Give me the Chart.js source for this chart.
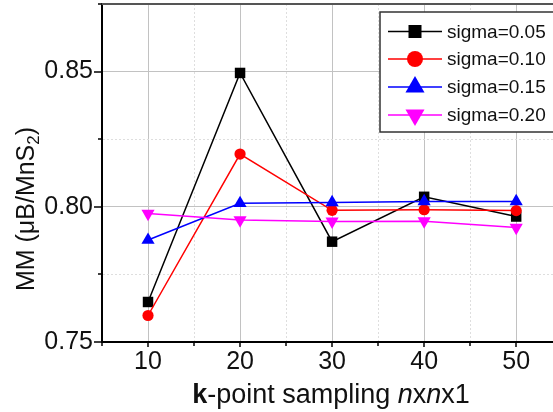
<!DOCTYPE html>
<html>
<head>
<meta charset="utf-8">
<script src="https://cdn.jsdelivr.net/npm/chart.js@4/dist/chart.umd.min.js"></script>
<style>
  html, body { margin: 0; padding: 0; background: #fff; overflow: hidden; }
  canvas { display: block; }
</style>
</head>
<body>
<canvas id="c" width="553" height="412"></canvas>
<script>
// k-point mesh sizes (n in n x n x 1)
const kPoints = [10, 20, 30, 40, 50];

// Magnetic moment per MnS2 for each smearing width
const sigma005 = [0.7648, 0.8495, 0.7871, 0.8037, 0.7964];
const sigma010 = [0.7598, 0.8195, 0.7987, 0.7989, 0.7986];
const sigma015 = [0.7877, 0.8013, 0.8016, 0.8020, 0.8020];
const sigma020 = [0.7975, 0.7951, 0.7946, 0.7947, 0.7923];

const seriesLabels = ['sigma=0.05', 'sigma=0.10', 'sigma=0.15', 'sigma=0.20'];

// Tick positions (major + minor) and the labelled ones
const xTicks = [5, 10, 15, 20, 25, 30, 35, 40, 45, 50];
const xTickLabels = ['10', '20', '30', '40', '50'];
const yTicks = [0.75, 0.775, 0.80, 0.825, 0.85, 0.875];
const yTickLabels = ['0.75', '0.80', '0.85'];

const FONT = "'Liberation Sans', Arial, Helvetica, sans-serif";
const styles = [
  { color: '#000000', pointStyle: 'rect',     radius: 7.4, rotation: 0 },
  { color: '#ff0000', pointStyle: 'circle',   radius: 5.6, rotation: 0 },
  { color: '#0000ff', pointStyle: 'triangle', radius: 7.6, rotation: 0 },
  { color: '#ff00ff', pointStyle: 'triangle', radius: 7.6, rotation: 180 }
];
const seriesValues = [sigma005, sigma010, sigma015, sigma020];

const isMajorX = v => xTickLabels.includes(String(v));
const isMajorY = v => yTickLabels.includes(v.toFixed(2));

const datasets = seriesValues.map((vals, i) => ({
  label: seriesLabels[i],
  data: kPoints.map((k, j) => ({ x: k, y: vals[j] })),
  borderColor: styles[i].color,
  backgroundColor: styles[i].color,
  borderWidth: 1.5,
  pointStyle: styles[i].pointStyle,
  pointRadius: styles[i].radius,
  pointRotation: styles[i].rotation,
  pointBorderWidth: 0,
  pointBackgroundColor: styles[i].color,
  tension: 0,
  order: 4 - i
}));

// Axis boxes get a fixed size and no extra label overhang
const fixBox = (w, h) => s => {
  if (w !== null) s.width = w;
  if (h !== null) s.height = h;
  s.paddingTop = 0; s.paddingBottom = 0; s.paddingLeft = 0; s.paddingRight = 0;
};

// Frame, tick marks, axis titles and the boxed legend
const decorations = {
  id: 'decorations',
  afterDraw(chart) {
    const { ctx, chartArea: a, scales: { x, y } } = chart;
    ctx.save();

    // top frame line
    ctx.strokeStyle = '#555';
    ctx.lineWidth = 2;
    ctx.beginPath();
    ctx.moveTo(a.left - 1, a.top);
    ctx.lineTo(a.right, a.top);
    ctx.stroke();

    // outward tick marks
    ctx.strokeStyle = '#000';
    ctx.lineWidth = 1.5;
    xTicks.forEach(v => {
      const px = Math.round(x.getPixelForValue(v));
      const len = isMajorX(v) ? 5 : 4;
      ctx.beginPath();
      ctx.moveTo(px, a.bottom);
      ctx.lineTo(px, a.bottom + len);
      ctx.stroke();
    });
    yTicks.forEach(v => {
      const py = Math.round(y.getPixelForValue(v));
      const len = isMajorY(v) ? 8 : 4;
      ctx.beginPath();
      ctx.moveTo(a.left, py);
      ctx.lineTo(a.left - len, py);
      ctx.stroke();
    });

    // y axis title: MM (μB/MnS2)
    ctx.fillStyle = '#111';
    ctx.textBaseline = 'alphabetic';
    ctx.textAlign = 'left';
    ctx.translate(34, 209);
    ctx.rotate(-Math.PI / 2);
    const yParts = [
      { t: 'MM (μB/MnS', f: `25px ${FONT}`, dy: 0 },
      { t: '2', f: `17px ${FONT}`, dy: 5 },
      { t: ')', f: `25px ${FONT}`, dy: 0 }
    ];
    let total = 0;
    yParts.forEach(p => { ctx.font = p.f; p.w = ctx.measureText(p.t).width; total += p.w; });
    let cx = -total / 2;
    yParts.forEach(p => { ctx.font = p.f; ctx.fillText(p.t, cx, p.dy); cx += p.w; });
    ctx.setTransform(1, 0, 0, 1, 0, 0);

    // x axis title: k-point sampling nxnx1
    const xParts = [
      { t: 'k', f: `bold 27px ${FONT}` },
      { t: '-point sampling ', f: `27px ${FONT}` },
      { t: 'n', f: `italic 27px ${FONT}` },
      { t: 'x', f: `27px ${FONT}` },
      { t: 'n', f: `italic 27px ${FONT}` },
      { t: 'x1', f: `27px ${FONT}` }
    ];
    total = 0;
    xParts.forEach(p => { ctx.font = p.f; p.w = ctx.measureText(p.t).width; total += p.w; });
    cx = 331 - total / 2;
    xParts.forEach(p => { ctx.font = p.f; ctx.fillText(p.t, cx, 403); cx += p.w; });

    // legend box
    const lx = 380, ly = 12, lb = 132;
    ctx.fillStyle = '#fff';
    ctx.fillRect(lx, ly, chart.width - lx + 10, lb - ly);
    ctx.strokeStyle = '#333';
    ctx.lineWidth = 1.5;
    ctx.strokeRect(lx, ly, chart.width - lx + 10, lb - ly);

    const rowY = [31.5, 59, 87, 115];
    const legendR = [9.2, 8, 11, 11];
    seriesLabels.forEach((lab, i) => {
      const s = styles[i];
      const ry = rowY[i];
      ctx.strokeStyle = s.color;
      ctx.fillStyle = s.color;
      ctx.lineWidth = 1.5;
      ctx.beginPath();
      ctx.moveTo(388, ry);
      ctx.lineTo(442, ry);
      ctx.stroke();
      const mx = 415, r = legendR[i];
      ctx.beginPath();
      if (s.pointStyle === 'rect') {
        const h = r * Math.SQRT1_2;
        ctx.rect(mx - h, ry - h, 2 * h, 2 * h);
      } else if (s.pointStyle === 'circle') {
        ctx.arc(mx, ry, r, 0, Math.PI * 2);
      } else {
        const rot = s.rotation * Math.PI / 180;
        for (let k = 0; k < 3; k++) {
          const ang = rot + k * 2 * Math.PI / 3;
          const px = mx + Math.sin(ang) * r, py = ry - Math.cos(ang) * r;
          if (k === 0) ctx.moveTo(px, py); else ctx.lineTo(px, py);
        }
        ctx.closePath();
      }
      ctx.fill();
      ctx.fillStyle = '#111';
      ctx.font = `19px ${FONT}`;
      ctx.textBaseline = 'middle';
      ctx.fillText(lab, 447, ry + 1);
    });
    ctx.restore();
  }
};

new Chart(document.getElementById('c'), {
  type: 'line',
  data: { datasets },
  options: {
    responsive: false,
    animation: false,
    devicePixelRatio: 1,
    layout: { autoPadding: false, padding: { left: 0, right: 0, top: 4, bottom: 0 } },
    plugins: { legend: { display: false }, tooltip: { enabled: false } },
    scales: {
      x: {
        type: 'linear',
        min: 5,
        max: 54,
        afterBuildTicks: s => { s.ticks = xTicks.map(v => ({ value: v })); },
        afterFit: fixBox(null, 70),
        grid: {
          drawTicks: false,
          color: c => isMajorX(c.tick.value) ? '#c2c2c2' : '#dedede',
          lineWidth: 1
        },
        border: {
          color: '#000',
          width: 2,
          dash: c => (c.tick && !isMajorX(c.tick.value)) ? [2, 2] : []
        },
        ticks: {
          autoSkip: false,
          maxRotation: 0,
          padding: 5,
          color: '#111',
          font: { family: FONT, size: 25 },
          callback: v => isMajorX(v) ? String(v) : ''
        }
      },
      y: {
        type: 'linear',
        min: 0.75,
        max: 0.875,
        afterBuildTicks: s => { s.ticks = yTicks.map(v => ({ value: v })); },
        afterFit: fixBox(102, null),
        grid: {
          drawTicks: false,
          color: c => isMajorY(c.tick.value) ? '#c2c2c2' : '#dedede',
          lineWidth: 1
        },
        border: {
          color: '#000',
          width: 2,
          dash: c => (c.tick && !isMajorY(c.tick.value)) ? [2, 2] : []
        },
        ticks: {
          autoSkip: false,
          padding: 9,
          color: '#111',
          font: { family: FONT, size: 25 },
          callback: v => { const s = v.toFixed(2); return yTickLabels.includes(s) ? s : ''; }
        }
      }
    }
  },
  plugins: [decorations]
});
</script>
</body>
</html>
